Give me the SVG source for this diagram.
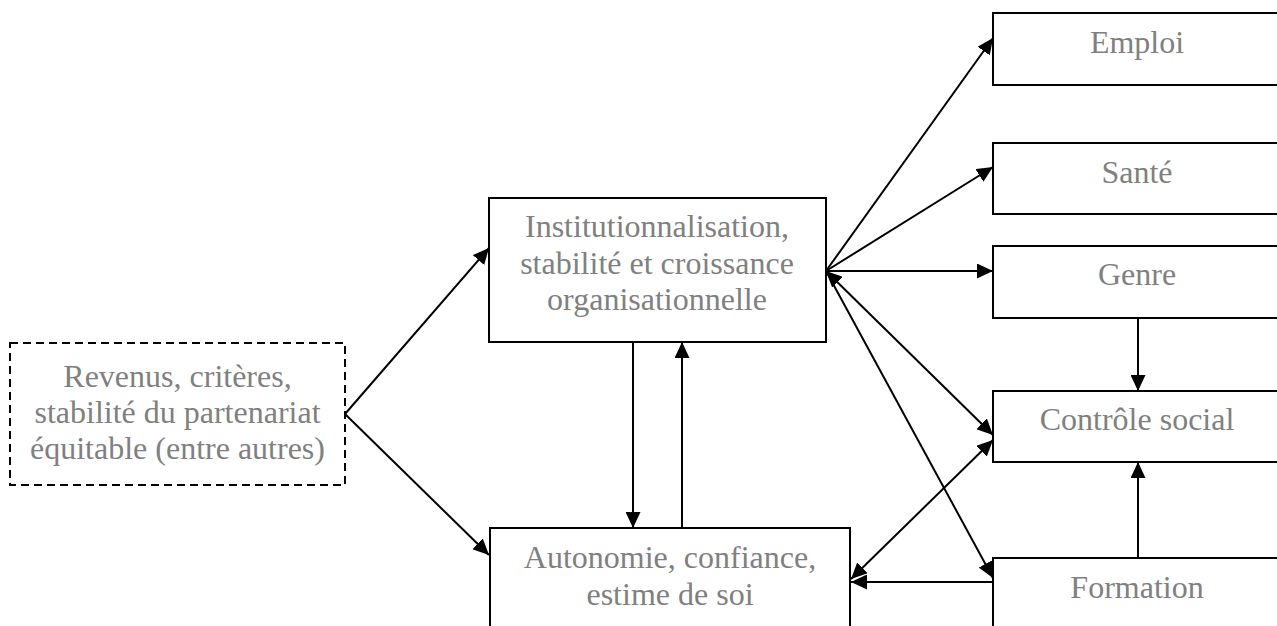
<svg xmlns="http://www.w3.org/2000/svg" width="1277" height="626" viewBox="0 0 1277 626">
<style>
.box{fill:#fff;stroke:#000;stroke-width:2}
.dash{fill:#fff;stroke:#000;stroke-width:2;stroke-dasharray:8,5}
.t{font-family:"Liberation Serif","Times New Roman",serif;font-size:32px;fill:#808080;text-anchor:middle}
.c{stroke:#000;stroke-width:2;fill:none}
</style>
<defs>
<marker id="ah" markerUnits="userSpaceOnUse" markerWidth="16" markerHeight="15" refX="16" refY="7.5" orient="auto-start-reverse">
<path d="M0,0 L16,7.5 L0,15 z" fill="#000"/>
</marker>
</defs>
<rect width="1277" height="626" fill="#fff"/>
<g id="n-revenus">
<rect class="dash" x="10" y="343" width="335" height="142"/>
<text class="t" x="177.5" y="387">Revenus, critères,</text>
<text class="t" x="177.5" y="423">stabilité du partenariat</text>
<text class="t" x="177.5" y="459">équitable (entre autres)</text>
</g>
<g id="n-inst">
<rect class="box" x="489" y="198" width="337" height="144"/>
<text class="t" x="657" y="237">Institutionnalisation,</text>
<text class="t" x="657" y="274">stabilité et croissance</text>
<text class="t" x="657" y="310">organisationnelle</text>
</g>
<g id="n-auto">
<rect class="box" x="490" y="528" width="360" height="110"/>
<text class="t" x="670" y="568">Autonomie, confiance,</text>
<text class="t" x="670" y="605">estime de soi</text>
</g>
<g id="n-emploi">
<rect class="box" x="993" y="13" width="290" height="72"/>
<text class="t" x="1137" y="53">Emploi</text>
</g>
<g id="n-sante">
<rect class="box" x="993" y="143" width="290" height="71"/>
<text class="t" x="1137" y="183">Santé</text>
</g>
<g id="n-genre">
<rect class="box" x="993" y="246" width="290" height="72"/>
<text class="t" x="1137" y="285">Genre</text>
</g>
<g id="n-controle">
<rect class="box" x="993" y="391" width="290" height="71"/>
<text class="t" x="1137" y="430">Contrôle social</text>
</g>
<g id="n-formation">
<rect class="box" x="993" y="558" width="290" height="80"/>
<text class="t" x="1137" y="598">Formation</text>
</g>
<g id="connectors">
<line class="c" x1="345" y1="414" x2="489" y2="248" marker-end="url(#ah)"/>
<line class="c" x1="345" y1="414" x2="489" y2="555" marker-end="url(#ah)"/>
<line class="c" x1="826" y1="271" x2="993" y2="38" marker-end="url(#ah)"/>
<line class="c" x1="826" y1="271" x2="993" y2="167" marker-end="url(#ah)"/>
<line class="c" x1="826" y1="271" x2="993" y2="271" marker-end="url(#ah)"/>
<line class="c" x1="826" y1="271" x2="993" y2="435" marker-start="url(#ah)" marker-end="url(#ah)"/>
<line class="c" x1="826" y1="271" x2="993" y2="578" marker-end="url(#ah)"/>
<line class="c" x1="1138" y1="318" x2="1138" y2="391" marker-end="url(#ah)"/>
<line class="c" x1="1138" y1="558" x2="1138" y2="462" marker-end="url(#ah)"/>
<line class="c" x1="633" y1="342" x2="633" y2="528" marker-end="url(#ah)"/>
<line class="c" x1="682" y1="528" x2="682" y2="342" marker-end="url(#ah)"/>
<line class="c" x1="993" y1="582" x2="851" y2="582" marker-end="url(#ah)"/>
<line class="c" x1="851" y1="579" x2="993" y2="440" marker-start="url(#ah)" marker-end="url(#ah)"/>
</g>
</svg>
